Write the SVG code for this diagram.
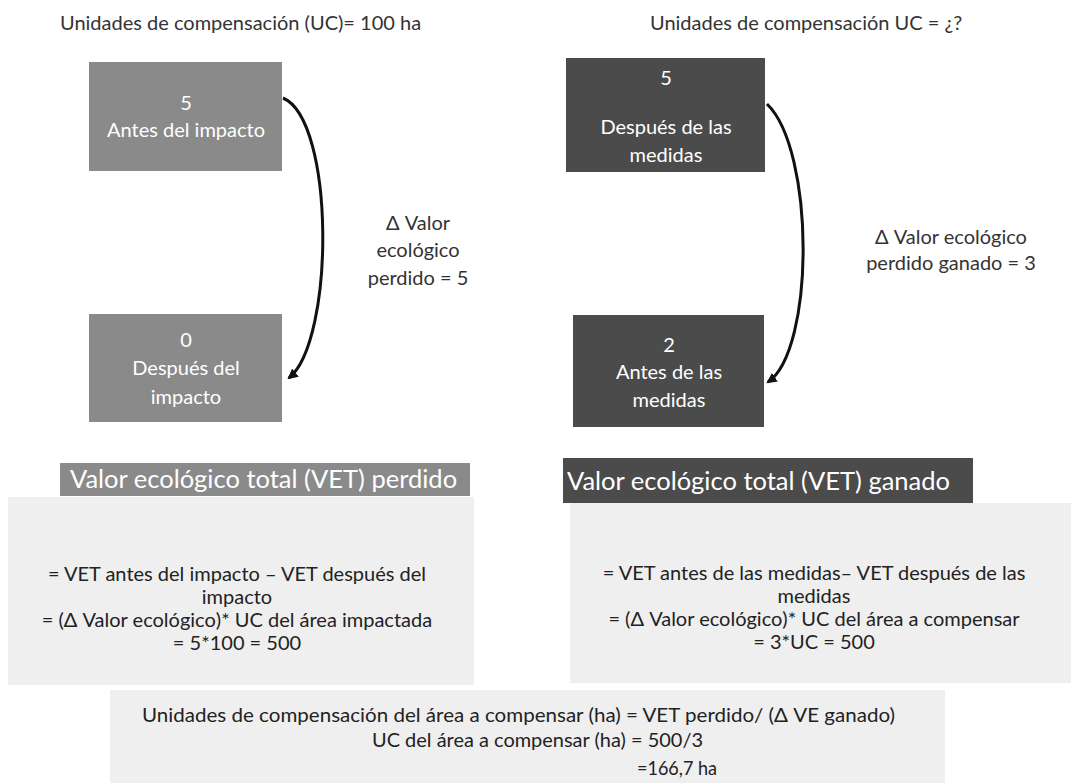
<svg xmlns="http://www.w3.org/2000/svg" width="1071" height="783" viewBox="0 0 1071 783">
<defs>
<style>
text{font-family:Lato,"Open Sans","Liberation Sans",sans-serif;fill:#222;}
.t{font-size:20px;fill:#333;}
.w{fill:#fff;font-size:20px;text-anchor:middle;}
.lbl{font-size:20px;text-anchor:middle;fill:#333;}
.hd{fill:#fff;font-size:25.5px;}
.eq{font-size:20px;text-anchor:middle;}
.bt{font-size:20px;}
.lbox{fill:#8a8a8a;}
.dbox{fill:#4b4b4b;}
.panel{fill:#efefef;}
.conn{fill:none;stroke:#111;stroke-width:3;}
</style>
<marker id="ah" viewBox="0 0 10 10" refX="8" refY="5" markerWidth="3.5" markerHeight="3.5" orient="auto">
<path d="M0,0 L10,5 L0,10 z" fill="#111"/>
</marker>
</defs>
<rect width="1071" height="783" fill="#fff"/>

<text class="t" x="60" y="30">Unidades de compensación (UC)= 100 ha</text>
<text class="t" x="650" y="30">Unidades de compensación UC = ¿?</text>

<g id="n-antes-impacto">
<rect class="lbox" x="89" y="62" width="193" height="109"/>
<text class="w" x="186" y="110">5</text>
<text class="w" x="186" y="137">Antes del impacto</text>
</g>
<g id="n-despues-impacto">
<rect class="lbox" x="89" y="314" width="193" height="108"/>
<text class="w" x="186" y="347">0</text>
<text class="w" x="186" y="375">Después del</text>
<text class="w" x="186" y="404">impacto</text>
</g>
<g id="n-despues-medidas">
<rect class="dbox" x="566" y="58" width="199" height="114"/>
<text class="w" x="666" y="85">5</text>
<text class="w" x="666" y="134">Después de las</text>
<text class="w" x="666" y="162">medidas</text>
</g>
<g id="n-antes-medidas">
<rect class="dbox" x="573" y="315" width="191" height="112"/>
<text class="w" x="669" y="352">2</text>
<text class="w" x="669" y="379">Antes de las</text>
<text class="w" x="669" y="407">medidas</text>
</g>

<g id="connectors">
<path class="conn" d="M283,98 C335,120 335,340 289,378" marker-end="url(#ah)"/>
<path class="conn" d="M767,104 C815,150 815,350 768,382" marker-end="url(#ah)"/>
</g>

<g id="lbl-perdido">
<text class="lbl" x="418" y="230">Δ Valor</text>
<text class="lbl" x="418" y="257">ecológico</text>
<text class="lbl" x="418" y="285">perdido = 5</text>
</g>
<g id="lbl-ganado">
<text class="lbl" x="951" y="244">Δ Valor ecológico</text>
<text class="lbl" x="951" y="270">perdido ganado = 3</text>
</g>

<g id="panel-left">
<rect class="panel" x="8" y="497" width="466" height="188"/>
<rect class="lbox" x="60" y="463" width="410" height="33"/>
<text class="hd" x="70" y="488">Valor ecológico total (VET) perdido</text>
<text class="eq" x="237" y="581">= VET antes del impacto – VET después del</text>
<text class="eq" x="237" y="604">impacto</text>
<text class="eq" x="237" y="627">= (Δ Valor ecológico)* UC del área impactada</text>
<text class="eq" x="237" y="650">=  5*100 = 500</text>
</g>

<g id="panel-right">
<rect class="panel" x="570" y="503" width="501" height="180"/>
<rect class="dbox" x="563" y="458" width="410" height="45"/>
<text class="hd" x="567" y="490">Valor ecológico total (VET) ganado</text>
<text class="eq" x="814" y="580">= VET antes de las medidas– VET después de las</text>
<text class="eq" x="814" y="603">medidas</text>
<text class="eq" x="814" y="626">= (Δ Valor ecológico)* UC del área a compensar</text>
<text class="eq" x="814" y="649">= 3*UC = 500</text>
</g>

<g id="panel-bottom">
<rect class="panel" x="110" y="690" width="835" height="93"/>
<text class="bt" x="142" y="722" textLength="753" lengthAdjust="spacingAndGlyphs">Unidades de compensación del área a compensar (ha)  = VET perdido/ (Δ VE ganado)</text>
<text class="bt" x="372" y="747" textLength="331" lengthAdjust="spacingAndGlyphs">UC del área a compensar (ha) = 500/3</text>
<text class="bt" x="637" y="775" textLength="80" lengthAdjust="spacingAndGlyphs">=166,7 ha</text>
</g>
</svg>
